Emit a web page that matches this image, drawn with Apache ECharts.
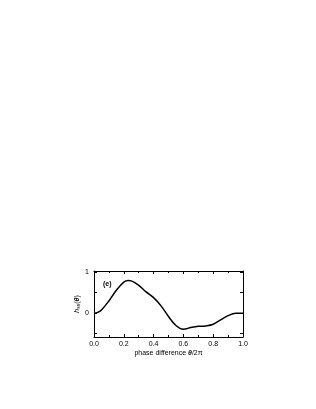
<!DOCTYPE html>
<html><head><meta charset="utf-8">
<script src="https://cdn.jsdelivr.net/npm/echarts@6/dist/echarts.min.js"></script>
<style>html,body{margin:0;padding:0;background:#fff}#c{width:316px;height:409px}</style>
</head><body><div id="c"></div>
<script>
const phase = [0,0.025,0.05,0.1,0.15,0.2,0.23,0.25,0.3,0.35,0.4,0.45,0.5,0.55,0.6,0.65,0.7,0.75,0.8,0.85,0.9,0.95,1.0];
const hss   = [0,0.02,0.08,0.3,0.56,0.76,0.8,0.79,0.68,0.52,0.38,0.18,-0.08,-0.3,-0.39,-0.35,-0.32,-0.31,-0.27,-0.16,-0.06,0.0,0.0];
const xTicks = [0,0.2,0.4,0.6,0.8,1.0];
const yLabels = [0,1];
const yTicks = [-0.5,0,0.5,1];
const panelLabel = '(e)';

const font = 'Liberation Sans';
const chart = echarts.init(document.getElementById('c'));
const axisCommon = {axisLine:{onZero:false,lineStyle:{color:'#000',width:1}}, splitLine:{show:false}};
chart.setOption({
  animation:false,
  grid:{left:94,right:73,top:271,bottom:72},
  xAxis:[{
    type:'value',min:0,max:1,interval:0.2,position:'bottom',
    ...axisCommon,
    axisTick:{inside:true,length:3,lineStyle:{color:'#000'}},
    minorTick:{show:true,splitNumber:2,length:2,lineStyle:{color:'#000'}},
    axisLabel:{fontSize:7,fontFamily:font,color:'#000',margin:4,formatter:v=>v.toFixed(1)},
    name:'{n|phase difference }{t|θ}{n|/2π}',nameLocation:'middle',nameGap:13,
    nameTextStyle:{rich:{n:{fontSize:7,fontFamily:font,color:'#000'},t:{fontSize:7,fontFamily:font,fontStyle:'italic',fontWeight:'bold',color:'#000'}}}
  },{
    type:'value',min:0,max:1,interval:0.2,position:'top',
    ...axisCommon,
    axisTick:{inside:true,length:3,lineStyle:{color:'#000'}},
    minorTick:{show:true,splitNumber:2,length:2,lineStyle:{color:'#000'}},
    axisLabel:{show:false}
  }],
  yAxis:[{
    type:'value',min:-0.58,max:1.03,position:'left',
    ...axisCommon,
    axisTick:{inside:true,length:3,customValues:yTicks,lineStyle:{color:'#000'}},
    axisLabel:{fontSize:7,fontFamily:font,color:'#000',margin:5,customValues:yLabels,formatter:v=>String(v)},
    name:'{h|h}{s|ss}{n|(}{t|θ}{n|)}',nameLocation:'middle',nameGap:9,nameRotate:90,
    nameTextStyle:{rich:{h:{fontSize:7,fontFamily:font,fontStyle:'italic',color:'#000'},s:{fontSize:5,fontFamily:font,color:'#000',verticalAlign:'bottom',padding:[3,0,0,0]},n:{fontSize:7,fontFamily:font,color:'#000'},t:{fontSize:7,fontFamily:font,fontStyle:'italic',fontWeight:'bold',color:'#000'}}}
  },{
    type:'value',min:-0.58,max:1.03,position:'right',
    ...axisCommon,
    axisTick:{inside:true,length:3,customValues:yTicks,lineStyle:{color:'#000'}},
    axisLabel:{show:false}
  }],
  graphic:[{type:'text',left:103,top:281,style:{text:panelLabel,fontSize:7,fontWeight:'bold',fontFamily:font,fill:'#000'}}],
  series:[{type:'line',xAxisIndex:0,yAxisIndex:0,smooth:0.4,showSymbol:false,
    lineStyle:{color:'#000',width:1.5},data:phase.map((x,i)=>[x,hss[i]])}]
});
</script></body></html>
